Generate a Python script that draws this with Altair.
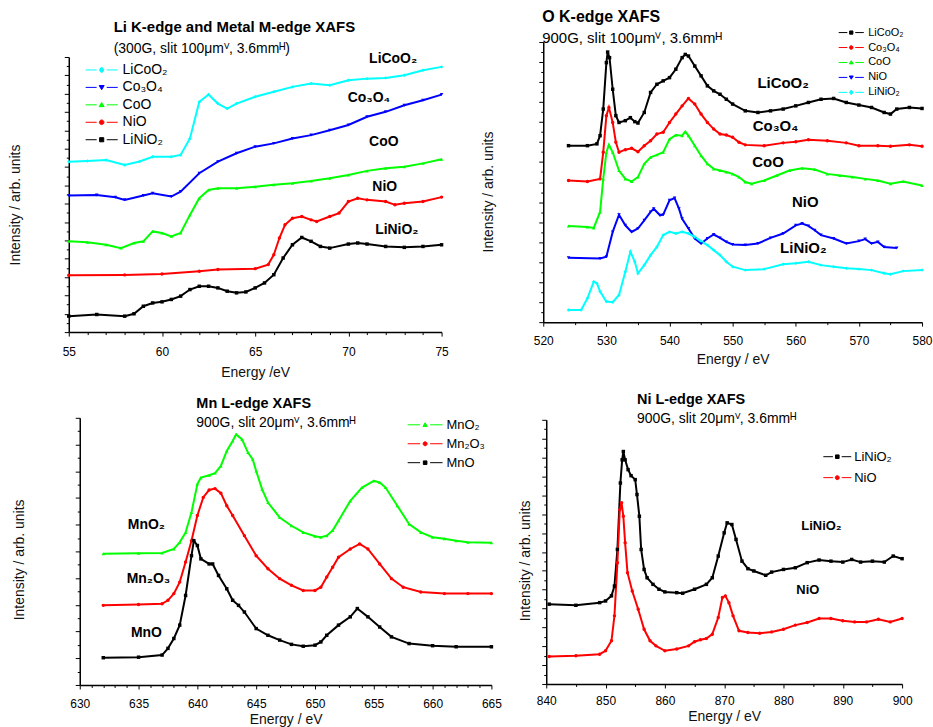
import altair as alt
import pandas as pd

FONT = "Liberation Sans"

# ---------------- Panel 1: Li K-edge and Metal M-edge ----------------
p1_series = ["LiCoO₂", "Co₃O₄", "CoO", "NiO", "LiNiO₂"]
p1_colors = ["#00ffff", "#0000ff", "#00ff00", "#ff0000", "#000000"]
p1_shapes = ["diamond", "triangle-down", "triangle-up", "circle", "square"]

p1_licoo2_x = [55, 56, 57, 58, 58.8, 59.5, 60.5, 61, 61.5, 62, 62.5, 63, 63.5, 64, 65, 66, 67, 68, 69, 70, 71, 72, 73, 74, 75]
p1_licoo2_y = [9.29, 9.33, 9.38, 9.11, 9.3, 9.56, 9.56, 9.66, 10.56, 12.55, 12.95, 12.46, 12.19, 12.46, 12.83, 13.1, 13.37, 13.55, 13.46, 13.73, 13.82, 13.86, 14.0, 14.28, 14.46]
p1_co3o4_x = [55, 56.5, 57.5, 58, 59, 59.5, 60.5, 61, 62, 63, 64, 65, 66, 67, 68, 69, 70, 71, 72, 73, 74, 75]
p1_co3o4_y = [7.45, 7.48, 7.35, 7.21, 7.45, 7.57, 7.39, 7.66, 8.66, 9.29, 9.75, 10.11, 10.29, 10.56, 10.74, 11.01, 11.29, 11.74, 12.01, 12.37, 12.64, 12.95]
p1_coo_x = [55, 56, 57, 57.8, 58.5, 59, 59.5, 60, 60.5, 61, 61.5, 62, 62.5, 63, 64, 65, 66, 67, 68, 69, 70, 71, 72, 73, 74, 75]
p1_coo_y = [4.95, 4.9, 4.76, 4.58, 4.86, 4.95, 5.49, 5.40, 5.22, 5.40, 6.39, 7.30, 7.75, 7.84, 7.84, 7.93, 8.03, 8.12, 8.24, 8.39, 8.57, 8.79, 8.93, 9.02, 9.20, 9.42]
p1_nio_x = [55, 58, 60, 62, 63, 65, 65.7, 66, 66.3, 66.6, 67, 67.5, 68, 68.3, 69, 69.5, 70, 70.5, 71, 72, 72.5, 73, 74, 75]
p1_nio_y = [3.10, 3.12, 3.17, 3.32, 3.41, 3.46, 3.68, 4.22, 5.13, 5.85, 6.21, 6.30, 6.12, 6.03, 6.30, 6.49, 7.12, 7.30, 7.21, 7.12, 6.94, 7.03, 7.12, 7.36]
p1_linio2_x = [55, 56.5, 58, 58.5, 59, 59.5, 60, 60.5, 61, 61.5, 62, 62.5, 63, 63.5, 64, 64.5, 65, 65.5, 66, 66.5, 67, 67.5, 68, 68.5, 69, 70, 70.5, 71, 72, 73, 74, 75]
p1_linio2_y = [0.87, 0.96, 0.87, 1.00, 1.41, 1.59, 1.65, 1.78, 1.96, 2.32, 2.50, 2.50, 2.41, 2.23, 2.14, 2.19, 2.41, 2.68, 3.13, 4.04, 4.76, 5.16, 4.95, 4.67, 4.58, 4.80, 4.86, 4.80, 4.67, 4.62, 4.67, 4.76]
p1_label_text = ["LiCoO₂", "Co₃O₄", "CoO", "NiO", "LiNiO₂"]
p1_label_x = [72.4, 71.1, 71.9, 71.95, 72.6]
p1_label_y = [14.9, 12.77, 10.34, 7.9, 5.58]

# ---------------- Panel 2: O K-edge ----------------
p2_series = ["LiCoO₂", "Co₃O₄", "CoO", "NiO", "LiNiO₂"]
p2_colors = ["#000000", "#ff0000", "#00ff00", "#0000ff", "#00ffff"]
p2_shapes = ["square", "circle", "triangle-up", "triangle-down", "diamond"]

p2_licoo2_x = [524, 527, 528.5, 529, 529.5, 530, 530.2, 530.5, 531, 531.5, 532, 533, 533.8, 534.5, 535, 536, 537, 538, 539, 540, 541, 542, 542.5, 543, 544, 545, 546, 547, 548, 549, 550, 552, 554, 556, 558, 560, 562, 564, 566, 568, 570, 572, 574, 575, 576, 578, 580]
p2_licoo2_y = [8.82, 8.82, 8.91, 9.32, 10.65, 12.97, 13.5, 13.22, 11.64, 10.32, 9.98, 10.07, 10.22, 10.02, 9.95, 10.48, 11.48, 11.89, 12.06, 12.22, 12.64, 13.22, 13.38, 13.3, 12.8, 12.31, 11.81, 11.56, 11.39, 11.14, 10.9, 10.56, 10.48, 10.56, 10.65, 10.81, 10.98, 11.14, 11.18, 10.98, 10.85, 10.73, 10.48, 10.4, 10.65, 10.73, 10.68]
p2_co3o4_x = [524, 527, 529, 529.5, 530, 530.4, 531, 531.5, 532, 533, 534, 535, 536, 537, 538, 539, 540, 541, 542, 543, 544, 545, 546, 547, 548, 549, 550, 551, 552, 555, 558, 560, 562, 565, 568, 570, 573, 575, 578, 580]
p2_co3o4_y = [7.08, 7.03, 7.16, 8.49, 10.32, 10.73, 9.98, 8.99, 8.49, 8.62, 8.69, 8.52, 8.82, 9.07, 9.4, 9.49, 9.98, 10.4, 10.81, 11.18, 10.9, 10.4, 9.98, 9.65, 9.4, 9.35, 9.24, 8.99, 8.86, 8.82, 8.96, 9.02, 9.12, 9.07, 8.96, 8.82, 8.82, 8.79, 8.86, 8.79]
p2_coo_x = [524, 527, 528, 529, 529.5, 530, 530.4, 531, 532, 533, 534, 535, 536, 537, 538, 539, 540, 541, 542, 542.5, 543, 544, 545, 546, 547, 548, 549, 550, 551, 552, 553, 555, 557, 559, 561, 563, 565, 567, 569, 571, 573, 575, 577, 580]
p2_coo_y = [4.81, 4.76, 4.71, 5.51, 7.16, 8.49, 8.86, 8.49, 7.58, 7.16, 7.03, 7.25, 7.91, 8.24, 8.36, 8.49, 9.15, 9.35, 9.32, 9.52, 9.32, 8.82, 8.32, 7.91, 7.66, 7.58, 7.5, 7.41, 7.25, 7.0, 6.92, 7.08, 7.33, 7.58, 7.69, 7.63, 7.41, 7.33, 7.25, 7.16, 7.08, 6.92, 7.03, 6.83]
p2_nio_x = [524, 529, 530, 531, 532, 533, 534, 535, 536, 537, 537.5, 538.5, 539, 540, 540.8, 541.5, 542, 543, 544, 545, 546, 547, 548, 549, 550, 552, 554, 556, 558, 560, 561, 562, 563, 564, 566, 568, 570, 571, 572, 573, 574, 576]
p2_nio_y = [3.22, 3.18, 3.27, 4.51, 5.37, 4.84, 4.51, 4.68, 5.09, 5.51, 5.67, 5.34, 5.37, 6.09, 6.2, 5.67, 5.17, 4.68, 4.18, 3.93, 4.18, 4.38, 4.21, 4.01, 3.88, 3.85, 3.93, 4.21, 4.43, 4.84, 4.93, 4.81, 4.59, 4.35, 4.18, 3.93, 4.05, 4.15, 3.93, 4.01, 3.76, 3.71]
p2_linio2_x = [524, 526, 527, 528, 528.5, 529, 530, 531, 532, 533, 533.8, 534.5, 535, 536, 537, 538, 539, 540, 541, 542, 543, 544, 545, 546, 547, 548, 549, 550, 552, 555, 558, 560, 562, 564, 566, 568, 570, 572, 574, 575, 577, 580]
p2_linio2_y = [0.61, 0.61, 1.19, 2.02, 1.94, 1.53, 1.03, 1.0, 1.36, 2.52, 3.52, 3.02, 2.44, 2.85, 3.35, 3.76, 4.35, 4.51, 4.43, 4.51, 4.43, 4.26, 4.05, 3.85, 3.6, 3.35, 3.02, 2.77, 2.6, 2.65, 2.89, 2.94, 3.02, 2.85, 2.77, 2.69, 2.65, 2.6, 2.44, 2.39, 2.55, 2.6]
p2_label_text = ["LiCoO₂", "Co₃O₄", "CoO", "NiO", "LiNiO₂"]
p2_label_x = [558.0, 556.8, 555.6, 561.5, 561.2]
p2_label_y = [11.97, 9.82, 7.99, 6.0, 3.68]

# ---------------- Panel 3: Mn L-edge ----------------
p3_series = ["MnO₂", "Mn₂O₃", "MnO"]
p3_colors = ["#00ff00", "#ff0000", "#000000"]
p3_shapes = ["triangle-up", "circle", "square"]

p3_mno2_x = [632, 635, 637, 638, 638.5, 639, 639.5, 640, 640.3, 641, 641.5, 642, 642.5, 643, 643.3, 643.8, 644.3, 644.7, 645, 645.5, 646, 647, 648, 649, 650, 650.5, 651, 651.5, 652, 653, 654, 655, 655.5, 656, 657, 658, 659, 660, 661, 662, 663, 665]
p3_mno2_y = [4.91, 4.93, 4.94, 5.09, 5.34, 5.71, 6.46, 7.52, 7.76, 7.85, 7.93, 8.2, 8.76, 9.13, 9.38, 9.19, 8.7, 8.45, 8.01, 7.33, 6.83, 6.27, 5.96, 5.71, 5.57, 5.53, 5.59, 5.78, 6.15, 6.89, 7.39, 7.64, 7.58, 7.39, 6.71, 6.02, 5.71, 5.53, 5.47, 5.4, 5.34, 5.32]
p3_mn2o3_x = [632, 635, 637, 637.5, 638, 638.5, 639, 639.5, 640, 640.5, 641, 641.5, 642, 642.5, 643, 644, 645, 646, 647, 648, 649, 650, 650.5, 651, 651.5, 652, 653, 653.8, 654.5, 655.5, 656.5, 657.5, 659, 661, 663, 665]
p3_mn2o3_y = [2.98, 3.01, 3.04, 3.17, 3.42, 3.85, 4.6, 5.4, 6.34, 7.02, 7.3, 7.35, 7.18, 6.71, 6.34, 5.59, 4.84, 4.35, 3.98, 3.73, 3.54, 3.54, 3.66, 4.04, 4.41, 4.78, 5.09, 5.28, 5.09, 4.53, 3.98, 3.66, 3.48, 3.42, 3.42, 3.42]
p3_mno_x = [632, 635, 637, 637.5, 638, 638.5, 639, 639.5, 639.7, 640, 640.3, 641, 641.3, 641.8, 642.5, 643, 643.5, 644, 645, 646, 647, 648, 649, 650, 650.5, 651, 652, 653, 653.6, 654.5, 655.5, 656.5, 658, 660, 662, 665]
p3_mno_y = [1.02, 1.04, 1.12, 1.37, 1.74, 2.24, 3.35, 4.84, 5.4, 5.22, 4.72, 4.53, 4.53, 4.1, 3.6, 3.17, 2.98, 2.73, 2.11, 1.86, 1.68, 1.52, 1.45, 1.49, 1.61, 1.86, 2.24, 2.55, 2.86, 2.55, 2.17, 1.8, 1.55, 1.47, 1.43, 1.43]
p3_label_text = ["MnO₂", "Mn₂O₃", "MnO"]
p3_label_x = [635.67, 635.84, 635.67]
p3_label_y = [5.99, 3.98, 1.93]

# ---------------- Panel 4: Ni L-edge ----------------
p4_series = ["LiNiO₂", "NiO"]
p4_colors = ["#000000", "#ff0000"]
p4_shapes = ["square", "circle"]

p4_linio2_x = [840.5, 845, 849, 850, 851, 851.5, 852, 852.5, 852.8, 853, 853.3, 853.8, 854.3, 855, 855.3, 855.7, 856, 856.5, 857, 858, 859, 860, 862, 863, 865, 867, 868, 869, 870, 870.5, 871.3, 872, 873, 874, 875, 877, 878, 880, 882, 884, 886, 888, 890, 891.5, 893, 895, 897, 898.5, 900]
p4_linio2_y = [4.23, 4.17, 4.31, 4.4, 4.67, 5.19, 7.13, 10.65, 11.88, 12.32, 11.88, 11.36, 11.04, 10.83, 10.04, 8.89, 7.13, 6.07, 5.63, 5.28, 5.02, 4.88, 4.84, 4.81, 5.02, 5.28, 5.63, 6.78, 8.01, 8.54, 8.45, 7.66, 6.51, 6.11, 5.99, 5.76, 5.93, 6.07, 6.16, 6.43, 6.57, 6.51, 6.46, 6.6, 6.46, 6.51, 6.46, 6.78, 6.64]
p4_nio_x = [840.5, 845, 849, 850, 851, 851.5, 852, 852.4, 852.7, 853, 853.3, 853.7, 854.5, 855.5, 856.5, 857.5, 858.5, 860, 862, 864, 865, 866, 867, 868, 869, 869.7, 870.2, 870.8, 871.5, 872.5, 874, 876, 878, 880, 882, 884, 886, 888, 890, 892, 894, 896, 898, 900]
p4_nio_y = [1.46, 1.5, 1.58, 1.76, 2.29, 3.61, 6.43, 9.24, 9.6, 8.89, 7.48, 5.9, 4.93, 3.96, 2.9, 2.29, 2.02, 1.76, 1.85, 2.02, 2.24, 2.34, 2.41, 2.64, 3.52, 4.58, 4.67, 4.31, 3.61, 2.82, 2.73, 2.69, 2.76, 2.9, 3.12, 3.26, 3.47, 3.47, 3.35, 3.29, 3.29, 3.43, 3.29, 3.47]
p4_label_text = ["LiNiO₂", "NiO"]
p4_label_x = [886.4, 884.1]
p4_label_y = [8.36, 4.98]

MARKER_PATHS = {
    "diamond": "M0,-1.3L1,0L0,1.3L-1,0Z",
    "triangle-down": "M-1.1,-0.8L1.1,-0.8L0,1Z",
    "triangle-up": "M-1.1,0.8L1.1,0.8L0,-1Z",
    "circle": "M-1,0A1,1 0 1,0 1,0A1,1 0 1,0 -1,0Z",
    "square": "M-0.9,-0.9L0.9,-0.9L0.9,0.9L-0.9,0.9Z",
}


def legend_path(shape, gap, reach):
    return f"M-{reach},0L-{gap},0M{gap},0L{reach},0" + MARKER_PATHS[shape]


def long_table(series, xs_list, ys_list):
    rows = []
    for name, xs, ys in zip(series, xs_list, ys_list):
        for x, y in zip(xs, ys):
            rows.append({"series": name, "energy": x, "intensity": y})
    return pd.DataFrame(rows)


def panel(series, colors, shapes, xs_list, ys_list, labels, xdom, ydom, xstep, xmajor,
          geom, title, subtitle, tcfg, ycfg, xcfg, lcfg, label_size):
    # geom: view width/height and where the plotting range starts inside the view
    vw, vh, left, top = geom
    df = long_table(series, xs_list, ys_list)
    xvals = list(range(xdom[0], xdom[1] + 1, xstep))
    yvals = [i * 0.5 for i in range(int(ydom[1] * 2) + 1)]
    xaxis = alt.Axis(
        values=xvals, title=xcfg.get("title", "Energy / eV"),
        labelExpr=f"datum.value % {xmajor} === 0 ? datum.label : ''",
        tickSize={"condition": {"test": f"datum.value % {xmajor} === 0", "value": 4}, "value": 2.5},
        labelFlush=False, labelOverlap=False, labelPadding=xcfg["lp"], titlePadding=xcfg["tp"],
    )
    yaxis = alt.Axis(
        values=yvals, labels=False, title="Intensity / arb. units", offset=-left,
        tickSize={"condition": {"test": "datum.value % 1 === 0", "value": 4.5}, "value": 2.5},
        titlePadding=ycfg["tp"], titleY=ycfg["ty"],
    )
    xenc = alt.X("energy:Q", scale=alt.Scale(domain=list(xdom), range=[left, vw], nice=False, zero=False), axis=xaxis)
    yenc = alt.Y("intensity:Q", scale=alt.Scale(domain=list(ydom), range=[vh, top], nice=False, zero=False), axis=yaxis)
    base = alt.Chart(df)
    line_layers = [
        base.transform_filter(alt.datum.series == s).mark_line(strokeWidth=2, color=c).encode(
            x=xenc, y=yenc, order=alt.Order("energy:Q"))
        for s, c in zip(series, colors)
    ]
    point_layers = [
        base.transform_filter(alt.datum.series == s).mark_point(
            filled=True, size=12, opacity=1, shape=shp, color=c).encode(x=xenc, y=yenc)
        for s, shp, c in zip(series, shapes, colors)
    ]
    r = lcfg["r"]
    size = (2 * r) ** 2
    leg = alt.Legend(title=None, orient="none", legendX=lcfg["x"], legendY=lcfg["y"], padding=0,
                     labelFont=FONT, labelFontSize=lcfg["fs"], labelColor="black",
                     labelOffset=lcfg["lo"], rowPadding=lcfg["rp"], symbolSize=size,
                     symbolStrokeWidth=1, symbolOpacity=1)
    paths = [legend_path(s, lcfg["gap"], lcfg["reach"]) for s in shapes]
    legend_layer = base.transform_filter("false").mark_point(
        filled=True, size=size, strokeWidth=1, opacity=1).encode(
        x=xenc, y=yenc,
        fill=alt.Fill("series:N", scale=alt.Scale(domain=series, range=colors), legend=leg),
        stroke=alt.Stroke("series:N", scale=alt.Scale(domain=series, range=colors), legend=leg),
        shape=alt.Shape("series:N", scale=alt.Scale(domain=series, range=paths), legend=leg))
    ldf = pd.DataFrame({"t": labels[0], "energy": labels[1], "intensity": labels[2]})
    texts = alt.Chart(ldf).mark_text(font=FONT, fontWeight="bold", fontSize=label_size,
                                     color="black", align="center", baseline="middle").encode(
        x=xenc, y=yenc, text="t:N")
    return alt.layer(*line_layers, *point_layers, legend_layer, texts).resolve_scale(
        fill="independent", stroke="independent", shape="independent").properties(
        width=vw, height=vh,
        title=alt.TitleParams(text=title, subtitle=subtitle, anchor="start", frame="group",
                              dx=tcfg["dx"], offset=tcfg["off"], font=FONT, fontSize=tcfg["fs"],
                              fontWeight="bold", color="black", subtitleFont=FONT,
                              subtitleFontSize=tcfg["sfs"], subtitleColor="black",
                              subtitlePadding=tcfg["sp"]))


P1 = panel(p1_series, p1_colors, p1_shapes,
           [p1_licoo2_x, p1_co3o4_x, p1_coo_x, p1_nio_x, p1_linio2_x],
           [p1_licoo2_y, p1_co3o4_y, p1_coo_y, p1_nio_y, p1_linio2_y],
           (p1_label_text, p1_label_x, p1_label_y), (55, 75), (0, 15), 1, 5,
           (374, 291, 0, 15),
           "Li K-edge and Metal M-edge XAFS", "(300G, slit 100μmⱽ, 3.6mmᴴ)",
           {"dx": 45, "off": -14, "fs": 15, "sfs": 14, "sp": 7.5},
           {"tp": 41, "ty": 163}, {"lp": 10, "tp": 9, "title": "Energy /eV"},
           {"x": 26, "y": 21, "fs": 14, "lo": 14, "rp": 3.5, "r": 2.3, "gap": 2.2, "reach": 7},
           14)
P2 = panel(p2_series, p2_colors, p2_shapes,
           [p2_licoo2_x, p2_co3o4_x, p2_coo_x, p2_nio_x, p2_linio2_x],
           [p2_licoo2_y, p2_co3o4_y, p2_coo_y, p2_nio_y, p2_linio2_y],
           (p2_label_text, p2_label_x, p2_label_y), (520, 580), (0, 14), 5, 10,
           (380, 281, 0, 0),
           "O K-edge XAFS", "900G, slit 100μmⱽ, 3.6mmᴴ",
           {"dx": -1, "off": -19, "fs": 16, "sfs": 15, "sp": 6},
           {"tp": 43, "ty": 150}, {"lp": 9, "tp": 6},
           {"x": 303.5, "y": -15, "fs": 11, "lo": 11.5, "rp": 3, "r": 1.8, "gap": 2.2, "reach": 7},
           15)
P3 = panel(p3_series, p3_colors, p3_shapes,
           [p3_mno2_x, p3_mn2o3_x, p3_mno_x], [p3_mno2_y, p3_mn2o3_y, p3_mno_y],
           (p3_label_text, p3_label_x, p3_label_y), (630, 665), (0, 10), 1, 5,
           (424, 268, 11, 0),
           "Mn L-edge XAFS", "900G, slit 20μmⱽ, 3.6mmᴴ",
           {"dx": 128, "off": -14, "fs": 14.5, "sfs": 14, "sp": 5},
           {"tp": 48, "ty": 142}, {"lp": 10, "tp": 3},
           {"x": 351, "y": 0.5, "fs": 13, "lo": 15, "rp": 5, "r": 2, "gap": 2.5, "reach": 8.75},
           14)
P4 = panel(p4_series, p4_colors, p4_shapes,
           [p4_linio2_x, p4_nio_x], [p4_linio2_y, p4_nio_y],
           (p4_label_text, p4_label_x, p4_label_y), (840, 900), (0, 14), 5, 10,
           (360, 267, 3, 2),
           "Ni L-edge XAFS", "900G,  slit 20μmⱽ, 3.6mmᴴ",
           {"dx": 94, "off": -9, "fs": 14.5, "sfs": 14, "sp": 4},
           {"tp": 9, "ty": 143}, {"lp": 8, "tp": 3},
           {"x": 288.5, "y": 32.5, "fs": 13, "lo": 10.5, "rp": 7, "r": 2, "gap": 2.2, "reach": 7},
           13)

chart = alt.concat(P1, P2, P3, P4, columns=2, spacing={"row": 86, "column": 52},
                   bounds="flush").resolve_scale(
    fill="independent", stroke="independent", shape="independent"
).properties(
    padding={"left": 9, "top": 8, "right": 0, "bottom": 0}
).configure_view(strokeWidth=0).configure_axis(
    grid=False, domainColor="black", domainWidth=1.5, tickColor="black", tickWidth=1,
    labelFont=FONT, labelFontSize=12, labelColor="black",
    titleFont=FONT, titleFontSize=14, titleFontWeight="normal", titleColor="#111111",
)

chart.save("out.html", embed_options={"renderer": "svg", "actions": False})
